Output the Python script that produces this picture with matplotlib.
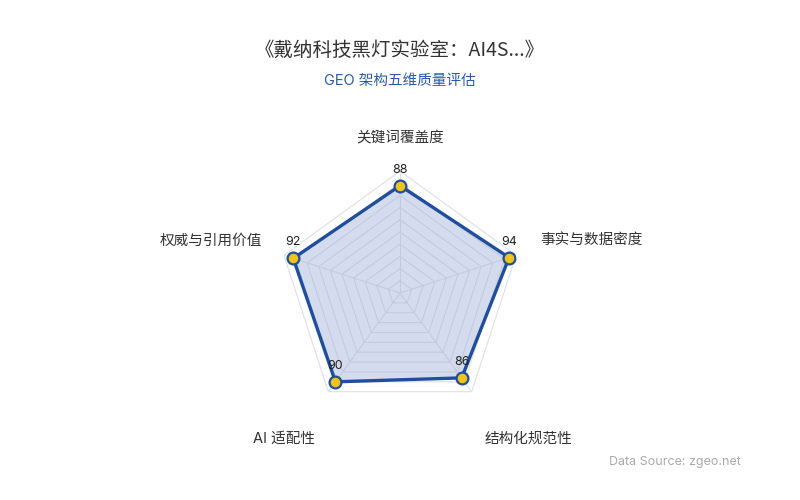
import numpy as np
import matplotlib
matplotlib.use("Agg")
import matplotlib.pyplot as plt

plt.rcParams['font.family'] = ['Inter', 'Noto Sans CJK SC', 'DejaVu Sans']

categories = ["关键词覆盖度", "事实与数据密度", "结构化规范性", "AI 适配性", "权威与引用价值"]
values = [88, 94, 86, 90, 92]
max_value = 100
ring_levels = [10, 20, 30, 40, 50, 60, 70, 80, 90, 100]
title = "《戴纳科技黑灯实验室：AI4S...》"
subtitle = "GEO 架构五维质量评估"
source = "Data Source: zgeo.net"

n = len(categories)
theta = np.arange(n) * 2 * np.pi / n

fig = plt.figure(figsize=(8, 5), dpi=100)
fig.patch.set_facecolor('white')
ax = fig.add_axes([0.3475, 0.17, 0.305, 0.488], projection='polar')
ax.set_theta_offset(np.pi / 2)
ax.set_theta_direction(-1)
ax.set_ylim(0, max_value)
ax.grid(False)
ax.spines['polar'].set_visible(False)
ax.set_xticks([])
ax.set_yticks([])
ax.set_facecolor('none')

tc = np.append(theta, theta[0])
for lv in ring_levels:
    ax.plot(tc, [lv] * (n + 1), color='#dcdfe6', lw=0.8, zorder=1)
for t in theta:
    ax.plot([t, t], [0, max_value], color='#dcdfe6', lw=0.8, zorder=1)

vc = values + values[:1]
ax.fill(tc, vc, color='#a9b9dc', alpha=0.5, zorder=2, lw=0)
ax.plot(tc, vc, color='#1f4e9f', lw=2.4, zorder=3)
ax.plot(theta, values, 'o', ms=8.5, mfc='#f2c318', mec='#1f4e9f', mew=1.6, zorder=4)

for t, v in zip(theta, values):
    ax.annotate(str(v), xy=(t, v), xytext=(0, 16), textcoords='offset pixels',
                ha='center', va='center', fontsize=9, color='#222222', zorder=5)

label_offsets = [(0, 33, 'center'), (24, 15, 'left'), (13, -47, 'left'),
                 (-13, -47, 'right'), (-22, 15, 'right')]
for t, cat, (dx, dy, ha) in zip(theta, categories, label_offsets):
    ax.annotate(cat, xy=(t, max_value), xytext=(dx, dy), textcoords='offset pixels',
                ha=ha, va='center', fontsize=10.5, color='#333333')

fig.text(0.5, 0.9, title, ha='center', va='center', fontsize=14, color='#333333',
         family=['Noto Sans CJK SC', 'DejaVu Sans'])
fig.text(0.5, 0.838, subtitle, ha='center', va='center', fontsize=10.5, color='#2a5ba8')
fig.text(0.926, 0.076, source, ha='right', va='center', fontsize=9, color='#aaaaaa')

fig.savefig('out.png', dpi=100)
